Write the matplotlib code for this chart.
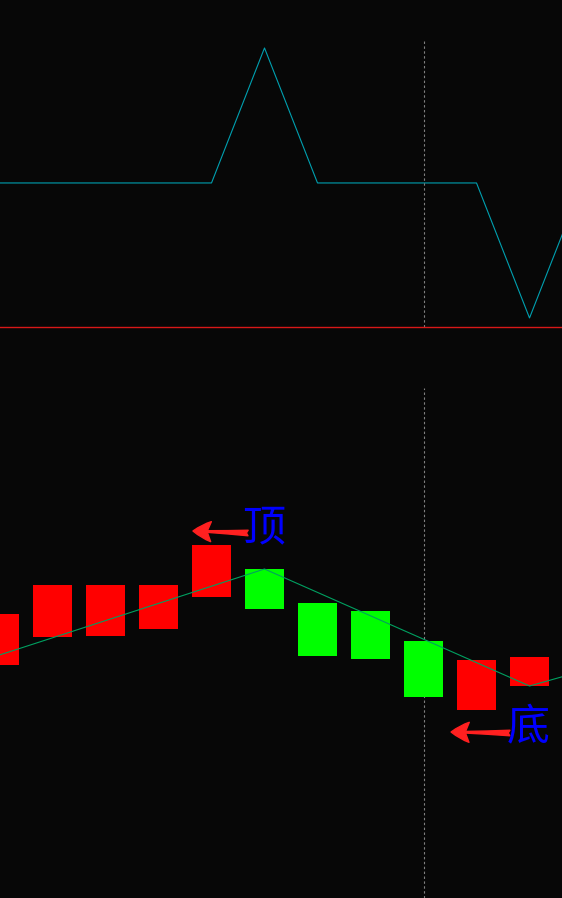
import matplotlib
matplotlib.use('Agg')
import matplotlib.pyplot as plt
import numpy as np

plt.rcParams['font.family'] = ['Noto Sans CJK SC', 'DejaVu Sans']

BG = '#070707'

# top indicator (one value per bar)
signal = [0, 0, 0, 0, 0, 1, 0, 0, 0, 0, -1, 0]

# candles
opens = [23.3, 26.1, 26.2, 26.9, 30.1, 32.9, 29.5, 28.7, 25.7, 18.8, 21.2]
closes = [28.4, 31.3, 31.3, 31.3, 35.3, 28.9, 24.2, 23.9, 20.1, 23.8, 24.1]

# zigzag through the turning points
zz_idx = [0, 5, 10, 11]
zz_val = [24.3, 32.9, 21.2, 22.7]

marker_idx = 8  # dashed cursor line
xlim = (0.0094, 10.613)

fig = plt.figure(figsize=(5.62, 8.98), dpi=100, facecolor=BG)

# ---- top panel
ax1 = fig.add_axes([0, 1 - 327 / 898, 1, 287 / 898], facecolor=BG)
ax1.plot(range(len(signal)), signal, color='#00a0b0', lw=0.8)
ax1.axvline(marker_idx, color='#808080', lw=0.8, dashes=(2.2, 2.2))
ax1.set_xlim(*xlim)
ax1.set_ylim(-1.067, 1.059)
for s in ['top', 'left', 'right']:
    ax1.spines[s].set_visible(False)
ax1.spines['bottom'].set_color('#d81818')
ax1.spines['bottom'].set_linewidth(1.0)
ax1.set_xticks([])
ax1.set_yticks([])

# ---- bottom panel
ax2 = fig.add_axes([0, 0, 1, 510 / 898], facecolor=BG)
x = np.arange(len(opens))
o = np.array(opens)
c = np.array(closes)
cols = ['#ff0000' if cc > oo else '#00ff00' for oo, cc in zip(o, c)]
ax2.bar(x, c - o, bottom=o, width=0.736, color=cols, zorder=2)
ax2.plot(zz_idx, zz_val, color='#00a060', lw=0.8, zorder=3)
ax2.axvline(marker_idx, color='#808080', lw=0.8, dashes=(2.2, 2.2), zorder=1)

arrow = dict(arrowstyle='fancy,head_length=0.65,head_width=0.72,tail_width=0.2',
             color='#ff2020', shrinkA=0, shrinkB=0, mutation_scale=20)
ax2.annotate('', xy=(3.65, 36.7), xytext=(4.69, 36.5), arrowprops=arrow)
ax2.annotate('', xy=(8.52, 16.6), xytext=(9.63, 16.5), arrowprops=arrow)
ax2.text(4.99, 37.0, '顶', color='#0000ff', fontsize=31, ha='center', va='center')
ax2.text(9.97, 17.0, '底', color='#0000ff', fontsize=31, ha='center', va='center')

ax2.set_xlim(*xlim)
ax2.set_ylim(0, 51)
for s in ax2.spines.values():
    s.set_visible(False)
ax2.set_xticks([])
ax2.set_yticks([])

fig.savefig('out.png', dpi=100, facecolor=BG)
